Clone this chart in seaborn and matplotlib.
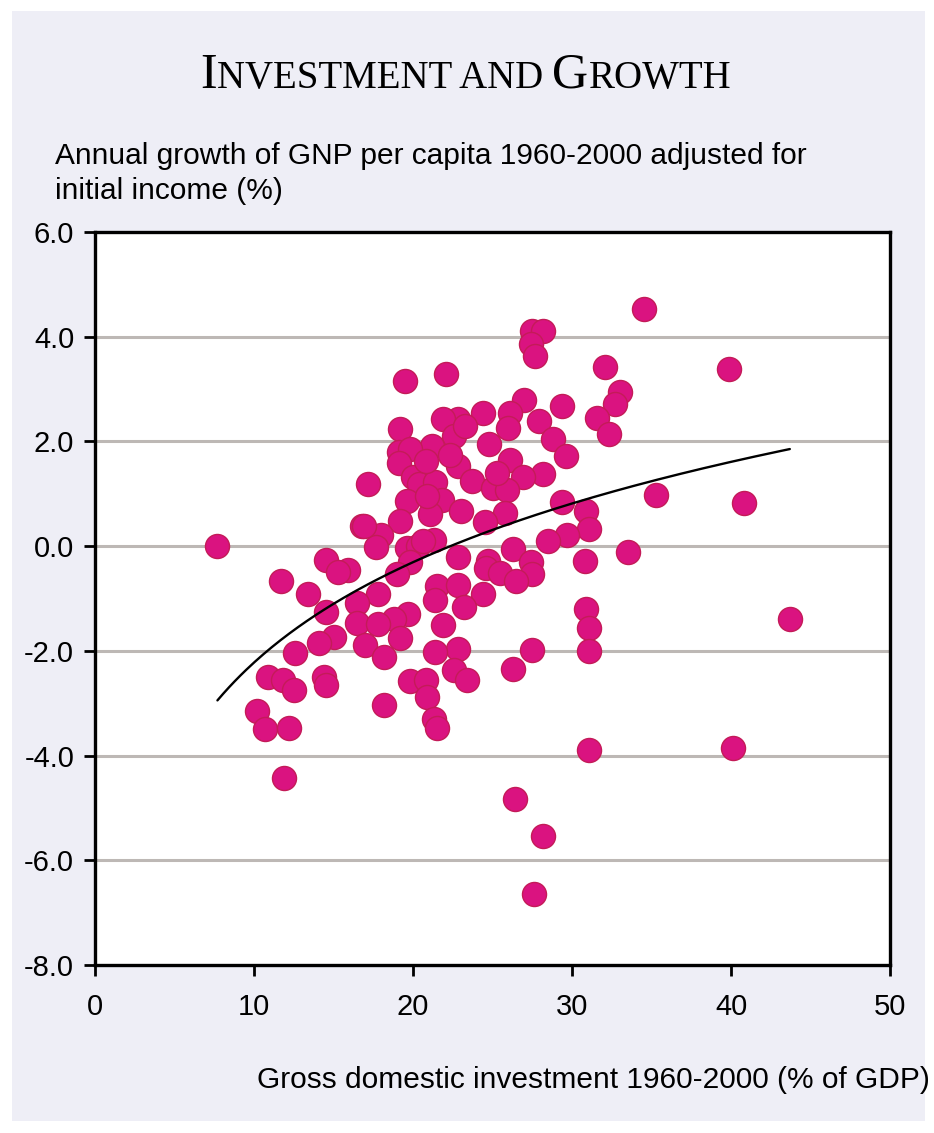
import matplotlib
matplotlib.use("Agg")
import matplotlib.pyplot as plt
import matplotlib.patches as patches
import numpy as np
import pandas as pd
import seaborn as sns

# values
investment = [
    34.5, 27.5, 28.2, 27.4, 27.7, 32.1, 39.9, 22.1, 19.5, 33.0,
    32.7, 27.0, 29.4, 26.1, 24.4, 31.6, 22.8, 21.9, 27.9, 19.2,
    26.0, 32.3, 22.6, 28.8, 24.8, 21.2, 19.1, 19.8, 29.6, 26.1,
    19.1, 22.8, 28.2, 26.9, 20.0, 17.2, 20.4, 21.4, 23.7, 25.0,
    25.9, 35.3, 19.6, 21.8, 29.4, 40.8, 23.0, 30.9, 21.1, 25.8,
    19.2, 24.5, 16.8, 31.1, 18.0, 29.7, 21.3, 28.5, 7.7, 17.7,
    19.6, 20.3, 26.3, 33.5, 22.8, 14.5, 24.7, 30.8, 27.4, 19.8,
    15.9, 24.6, 25.5, 19.0, 27.5, 26.5, 11.7, 21.5, 22.8, 13.4,
    17.8, 24.4, 16.5, 23.2, 30.9, 14.5, 19.7, 18.8, 43.7, 16.5,
    17.8, 21.9, 31.1, 15.0, 19.2, 14.1, 17.0, 22.8, 27.5, 21.4,
    31.1, 12.6, 18.2, 26.3, 22.6, 10.9, 14.4, 11.8, 19.8, 20.8,
    23.4, 14.5, 12.5, 20.9, 18.2, 10.2, 21.3, 10.7, 12.2, 21.5,
    31.1, 40.1, 11.9, 26.4, 28.2, 27.6, 15.3, 21.4, 16.9, 20.6,
    20.8, 22.3, 23.3, 20.9, 25.3,
]
growth = [
    4.53, 4.11, 4.11, 3.86, 3.63, 3.42, 3.38, 3.28, 3.15, 2.94,
    2.71, 2.80, 2.68, 2.55, 2.55, 2.45, 2.42, 2.42, 2.39, 2.24,
    2.26, 2.14, 2.10, 2.04, 1.96, 1.91, 1.79, 1.85, 1.72, 1.64,
    1.58, 1.53, 1.37, 1.32, 1.33, 1.18, 1.18, 1.22, 1.24, 1.12,
    1.08, 0.97, 0.87, 0.89, 0.84, 0.83, 0.67, 0.68, 0.61, 0.64,
    0.48, 0.46, 0.38, 0.32, 0.22, 0.22, 0.11, 0.09, 0.00, -0.02,
    -0.03, 0.00, -0.06, -0.12, -0.21, -0.27, -0.29, -0.29, -0.31, -0.31,
    -0.45, -0.41, -0.51, -0.54, -0.54, -0.66, -0.67, -0.77, -0.75, -0.92,
    -0.92, -0.92, -1.08, -1.17, -1.21, -1.26, -1.29, -1.40, -1.40, -1.46,
    -1.48, -1.50, -1.56, -1.74, -1.75, -1.85, -1.88, -1.96, -1.98, -2.02,
    -2.01, -2.04, -2.12, -2.34, -2.36, -2.49, -2.50, -2.56, -2.57, -2.55,
    -2.55, -2.66, -2.74, -2.88, -3.03, -3.15, -3.30, -3.50, -3.47, -3.48,
    -3.89, -3.85, -4.42, -4.82, -5.53, -6.64, -0.50, -1.02, 0.38, 0.10,
    1.62, 1.75, 2.30, 0.95, 1.40,
]
# log trend line as it appears in the chart: growth = a + b * ln(investment)
trend_a = -8.59
trend_b = 2.765

y_ticks = [6.0, 4.0, 2.0, 0.0, -2.0, -4.0, -6.0, -8.0]
x_ticks = [0, 10, 20, 30, 40, 50]

df = pd.DataFrame({"inv": investment, "growth": growth})
trend_x = np.linspace(min(investment), max(investment), 200)
trend = pd.DataFrame({"inv": trend_x, "growth": trend_a + trend_b * np.log(trend_x)})

sns.set_theme(style="white")
plt.rcParams["font.family"] = ["Liberation Sans", "DejaVu Sans"]
plt.rcParams["text.color"] = "black"
plt.rcParams["xtick.color"] = "black"
plt.rcParams["ytick.color"] = "black"

W, H = 934, 1133
fig = plt.figure(figsize=(W / 100, H / 100), dpi=100, facecolor="white")
fig.patches.append(patches.Rectangle((12 / W, 12 / H), (925 - 12) / W, (1122 - 12) / H,
                                     transform=fig.transFigure, facecolor="#EEEEF6",
                                     edgecolor="none", zorder=-5))

ax = fig.add_axes([95 / W, 1 - 965 / H, (890 - 95) / W, (965 - 232) / H])
ax.set_zorder(3)
ax.set_facecolor("white")

for yv in y_ticks[1:-1]:
    ax.axhline(yv, color="#BDB8B5", lw=2.2, zorder=1)

sns.scatterplot(data=df, x="inv", y="growth", ax=ax, s=300, color="#DA1380",
                edgecolor="#C41B58", linewidth=1.0, alpha=1, zorder=3, legend=False)
sns.lineplot(data=trend, x="inv", y="growth", ax=ax, color="black", lw=1.7,
             zorder=4, legend=False)

ax.set_xlim(0, 50)
ax.set_ylim(-8, 6)
ax.set_xticks(x_ticks)
ax.set_xticklabels([str(v) for v in x_ticks])
ax.set_yticks(y_ticks)
ax.set_yticklabels([f"{v:.1f}" for v in y_ticks])
ax.set_xlabel("")
ax.set_ylabel("")
for sp in ax.spines.values():
    sp.set_visible(True)
    sp.set_color("black")
    sp.set_linewidth(2.4)
ax.tick_params(axis="x", direction="out", length=8, width=2, color="black",
               labelsize=21, pad=12, bottom=True)
ax.tick_params(axis="y", direction="out", length=8, width=2, color="black",
               labelsize=21, pad=7, left=True)

# y axis title above the plot
fig.text(55 / W, 1 - 156 / H, "Annual growth of GNP per capita 1960-2000 adjusted for",
         fontsize=21.5, ha="left", va="center")
fig.text(55 / W, 1 - 191 / H, "initial income (%)", fontsize=21.5, ha="left", va="center")
fig.text(930 / W, 1 - 1080 / H, "Gross domestic investment 1960-2000 (% of GDP)",
         fontsize=21.5, ha="right", va="center")

# small-caps title built piece by piece
parts = [("I", 36), ("NVESTMENT AND ", 28), ("G", 36), ("ROWTH", 28)]
renderer = fig.canvas.get_renderer()
x0 = 200 / W
base = 1 - 88 / H
for txt, size in parts:
    t = fig.text(x0, base, txt, fontsize=size, family="Liberation Serif",
                 ha="left", va="baseline")
    bb = t.get_window_extent(renderer=renderer)
    x0 += bb.width / W

fig.savefig("out.png", dpi=100, facecolor=fig.get_facecolor())
